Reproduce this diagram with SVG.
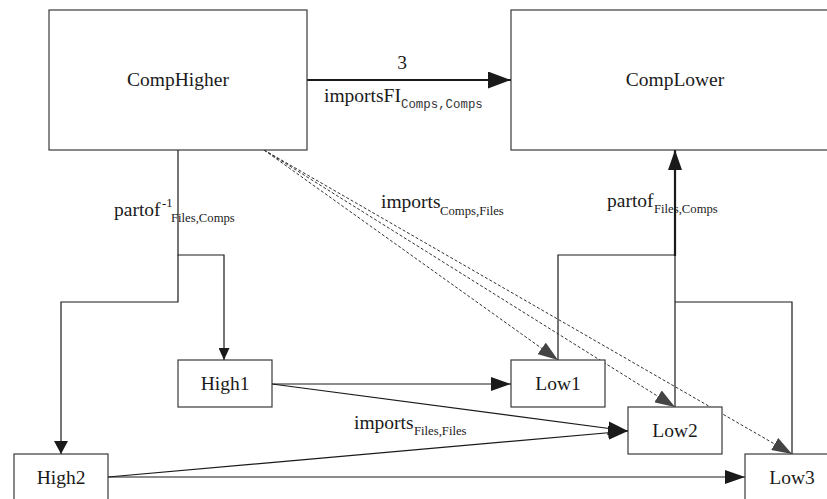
<svg xmlns="http://www.w3.org/2000/svg" width="827" height="499" viewBox="0 0 827 499">
<style>
.box{fill:#fff;stroke:#3a3a3a;stroke-width:1.2}
.lbl{font-family:"Liberation Serif","Times New Roman",serif;font-size:19.5px;fill:#1a1a1a}
.sub{font-family:"Liberation Serif","Times New Roman",serif;font-size:12.7px;fill:#1a1a1a}
.mono{font-family:"Liberation Mono","Courier New",monospace;font-size:12.4px;fill:#333}
.ln{fill:none;stroke:#1a1a1a;stroke-width:1.2}
.thick{fill:none;stroke:#1a1a1a;stroke-width:2.2}
.dash{fill:none;stroke:#333;stroke-width:1;stroke-dasharray:3,2}
</style>
<defs>
<marker id="aBig" markerUnits="userSpaceOnUse" markerWidth="23" markerHeight="17" refX="23" refY="8.5" orient="auto"><path d="M0,0 L23,8.5 L0,17 z" fill="#1a1a1a"/></marker>
<marker id="aMed" markerUnits="userSpaceOnUse" markerWidth="20" markerHeight="14" refX="20" refY="7" orient="auto"><path d="M0,0 L20,7 L0,14 z" fill="#1a1a1a"/></marker>
<marker id="aV" markerUnits="userSpaceOnUse" markerWidth="13" markerHeight="14" refX="13" refY="7" orient="auto"><path d="M0,0 L13,7 L0,14 z" fill="#1a1a1a"/></marker>
<marker id="aSm" markerUnits="userSpaceOnUse" markerWidth="12" markerHeight="11" refX="12" refY="5.5" orient="auto"><path d="M0,0 L12,5.5 L0,11 z" fill="#1a1a1a"/></marker>
<marker id="aDash" markerUnits="userSpaceOnUse" markerWidth="20" markerHeight="14" refX="20" refY="7" orient="auto"><path d="M0,0 L20,7 L0,14 z" fill="#444"/></marker>
</defs>
<g id="connectors">
<path class="thick" d="M307,80 L511,80" marker-end="url(#aBig)"/>
<path class="ln" d="M178,150 L178,255 L224,255 L224,360" marker-end="url(#aSm)"/>
<path class="ln" d="M178,255 L178,302 L61,302 L61,454" marker-end="url(#aV)"/>
<path class="ln" d="M558,360 L558,255 L675,255"/>
<path class="ln" d="M675,407 L675,255"/>
<path class="ln" d="M792,454 L792,302 L675,302"/>
<path class="thick" d="M675,256 L675,150" marker-end="url(#aMed)"/>
<path class="dash" d="M264,150 L558,360" marker-end="url(#aDash)"/>
<path class="dash" d="M264,150 L675,407" marker-end="url(#aDash)"/>
<path class="dash" d="M264,150 L792,454" marker-end="url(#aDash)"/>
<path class="ln" d="M272,384 L511,384" marker-end="url(#aMed)"/>
<path class="ln" d="M272,384 L628,431" marker-end="url(#aMed)"/>
<path class="ln" d="M108,477 L628,431" marker-end="url(#aMed)"/>
<path class="ln" d="M108,477 L745,477" marker-end="url(#aMed)"/>
<text class="lbl" x="402" y="69" text-anchor="middle">3</text>
<text class="lbl" x="324" y="102">importsFI</text>
<text class="mono" x="401" y="108">Comps,Comps</text>
<text class="lbl" x="114" y="216">partof</text>
<text class="sub" x="162" y="207">-1</text>
<text class="sub" x="171" y="222">Files,Comps</text>
<text class="lbl" x="381" y="208">imports</text>
<text class="sub" x="440" y="215">Comps,Files</text>
<text class="lbl" x="607" y="207">partof</text>
<text class="sub" x="654" y="213">Files,Comps</text>
<text class="lbl" x="354" y="429">imports</text>
<text class="sub" x="414" y="435">Files,Files</text>
</g>
<g id="CompHigher"><rect class="box" x="49" y="10" width="258" height="140"/><text class="lbl" x="178" y="86" text-anchor="middle">CompHigher</text></g>
<g id="CompLower"><rect class="box" x="511" y="10" width="328" height="140"/><text class="lbl" x="675" y="86" text-anchor="middle">CompLower</text></g>
<g id="High1"><rect class="box" x="178" y="360" width="94" height="47"/><text class="lbl" x="225" y="390" text-anchor="middle">High1</text></g>
<g id="High2"><rect class="box" x="14" y="454" width="94" height="47"/><text class="lbl" x="61" y="484" text-anchor="middle">High2</text></g>
<g id="Low1"><rect class="box" x="511" y="360" width="94" height="47"/><text class="lbl" x="558" y="390" text-anchor="middle">Low1</text></g>
<g id="Low2"><rect class="box" x="628" y="407" width="94" height="47"/><text class="lbl" x="675" y="437" text-anchor="middle">Low2</text></g>
<g id="Low3"><rect class="box" x="745" y="454" width="94" height="47"/><text class="lbl" x="792" y="484" text-anchor="middle">Low3</text></g>
</svg>
